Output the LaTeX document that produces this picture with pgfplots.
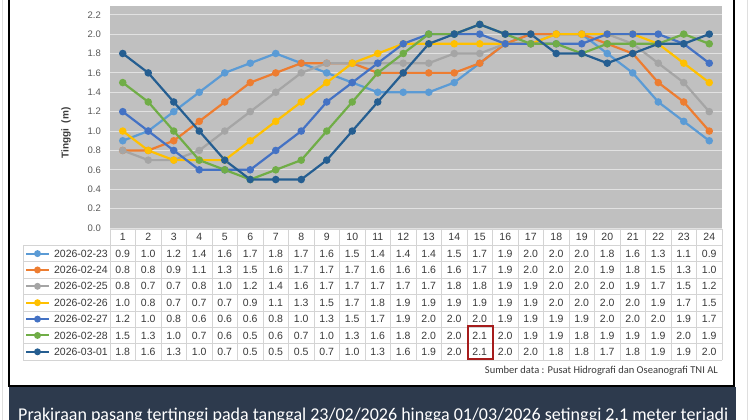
\documentclass[border=0pt]{standalone}
\usepackage{pgfplots}
\pgfplotsset{compat=1.18}
\usepackage{pgfplotstable}
\usepackage{fontspec}
\setmainfont{Liberation Sans}
\newfontfamily\calib{Carlito}
\definecolor{c23}{HTML}{5B9BD5}
\definecolor{c24}{HTML}{ED7D31}
\definecolor{c25}{HTML}{A5A5A5}
\definecolor{c26}{HTML}{FFC000}
\definecolor{c27}{HTML}{4472C4}
\definecolor{c28}{HTML}{70AD47}
\definecolor{c01}{HTML}{255E91}
\definecolor{plotbg}{HTML}{C0C0C0}
\definecolor{gridc}{HTML}{E2E2E2}
\definecolor{tabline}{HTML}{D4D4D4}
\definecolor{txt}{HTML}{3A3A3A}
\definecolor{ticktxt}{HTML}{595959}
\definecolor{navy}{HTML}{2D3A4D}
\definecolor{hlred}{HTML}{A61C1C}

\pgfplotstableread{
h d23 d24 d25 d26 d27 d28 d01
1 0.9 0.8 0.8 1.0 1.2 1.5 1.8
2 1.0 0.8 0.7 0.8 1.0 1.3 1.6
3 1.2 0.9 0.7 0.7 0.8 1.0 1.3
4 1.4 1.1 0.8 0.7 0.6 0.7 1.0
5 1.6 1.3 1.0 0.7 0.6 0.6 0.7
6 1.7 1.5 1.2 0.9 0.6 0.5 0.5
7 1.8 1.6 1.4 1.1 0.8 0.6 0.5
8 1.7 1.7 1.6 1.3 1.0 0.7 0.5
9 1.6 1.7 1.7 1.5 1.3 1.0 0.7
10 1.5 1.7 1.7 1.7 1.5 1.3 1.0
11 1.4 1.6 1.7 1.8 1.7 1.6 1.3
12 1.4 1.6 1.7 1.9 1.9 1.8 1.6
13 1.4 1.6 1.7 1.9 2.0 2.0 1.9
14 1.5 1.6 1.8 1.9 2.0 2.0 2.0
15 1.7 1.7 1.8 1.9 2.0 2.1 2.1
16 1.9 1.9 1.9 1.9 1.9 2.0 2.0
17 2.0 2.0 1.9 1.9 1.9 1.9 2.0
18 2.0 2.0 2.0 2.0 1.9 1.9 1.8
19 2.0 2.0 2.0 2.0 1.9 1.8 1.8
20 1.8 1.9 2.0 2.0 2.0 1.9 1.7
21 1.6 1.8 1.9 2.0 2.0 1.9 1.8
22 1.3 1.5 1.7 1.9 2.0 1.9 1.9
23 1.1 1.3 1.5 1.7 1.9 2.0 1.9
24 0.9 1.0 1.2 1.5 1.7 1.9 2.0
}\data

\begin{document}
\begin{tikzpicture}[x=1pt,y=1pt]
\clip (0,0) rectangle (750,420);
\fill[white] (0,0) rectangle (750,420);
\draw[gray!25, line width=0.8pt] (2,0) -- (2,420);
\draw[gray!25, line width=0.8pt] (747,0) -- (747,420);

\begin{axis}[at={(110pt,192pt)}, anchor=south west, scale only axis,
  width=612pt, height=222pt,
  xmin=0.5, xmax=24.5, ymin=0, ymax=2.29,
  xtick=\empty,
  ytick={0,0.2,0.4,0.6,0.8,1.0,1.2,1.4,1.6,1.8,2.0,2.2},
  ymajorgrids, grid style={color=gridc, line width=0.9pt},
  axis line style={draw=none}, major tick length=0pt,
  axis background/.style={fill=plotbg},
  /pgf/number format/assume math mode=true,
  yticklabel style={font=\fontsize{9.5}{11}\selectfont, text=ticktxt,
    inner sep=0pt, xshift=-9pt,
    /pgf/number format/fixed, /pgf/number format/fixed zerofill,
    /pgf/number format/precision=1},
  every axis plot/.append style={line width=2.2pt, mark=*, mark size=2.6pt},
]
\addplot[c23, mark options={fill=c23}] table[x=h, y=d23] {\data};
\addplot[c24, mark options={fill=c24}] table[x=h, y=d24] {\data};
\addplot[c25, mark options={fill=c25}] table[x=h, y=d25] {\data};
\addplot[c26, mark options={fill=c26}] table[x=h, y=d26] {\data};
\addplot[c27, mark options={fill=c27}] table[x=h, y=d27] {\data};
\addplot[c28, mark options={fill=c28}] table[x=h, y=d28] {\data};
\addplot[c01, mark options={fill=c01}] table[x=h, y=d01] {\data};
\end{axis}

\node[rotate=90, font=\bfseries\fontsize{10}{12}\selectfont, text=txt] at (66,287) {Tinggi\ \ (m)};

% table grid
\foreach \k in {0,...,8} {
  \pgfmathsetmacro\yy{420-(229+\k*16.375)}
  \ifnum\k=0
    \draw[tabline, line width=0.6pt] (110,\yy) -- (722,\yy);
  \else
    \draw[tabline, line width=0.6pt] (23,\yy) -- (722,\yy);
  \fi
}
\foreach \k in {0,...,24} {
  \pgfmathsetmacro\xx{110+\k*25.5}
  \draw[tabline, line width=0.6pt] (\xx,191) -- (\xx,60);
}
\draw[tabline, line width=0.6pt] (23,{420-245.375}) -- (23,60);

% header numbers
\foreach \i in {1,...,24} {
  \pgfmathsetmacro\xx{110+(\i-0.5)*25.5}
  \node[font=\fontsize{10.5}{12}\selectfont, text=txt] at (\xx,{420-237.2}) {\i};
}

% values
\foreach \c/\lab [count=\r] in {d23/2026-02-23,d24/2026-02-24,d25/2026-02-25,d26/2026-02-26,d27/2026-02-27,d28/2026-02-28,d01/2026-03-01} {
  \pgfmathsetmacro\yy{420-(237.2+\r*16.375)}
  \node[anchor=east, inner sep=0pt, font=\fontsize{10.5}{12}\selectfont, text=txt] at (108,\yy) {\lab};
  \foreach \i in {0,...,23} {
    \pgfplotstablegetelem{\i}{\c}\of\data
    \pgfmathsetmacro\xx{110+(\i+0.5)*25.5}
    \node[font=\fontsize{10.5}{12}\selectfont, text=txt] at (\xx,\yy) {\pgfplotsretval};
  }
}

% legend keys
\begin{axis}[at={(0pt,0pt)}, anchor=south west, scale only axis,
  width=750pt, height=420pt, xmin=0, xmax=750, ymin=0, ymax=420,
  y dir=reverse, hide axis, clip=false,
  every axis plot/.append style={line width=2pt, mark=*, mark size=2.4pt, mark indices={2}}]
\addplot[c23, mark options={fill=c23}] coordinates {(26,253.6) (37.5,253.6) (49,253.6)};
\addplot[c24, mark options={fill=c24}] coordinates {(26,269.95) (37.5,269.95) (49,269.95)};
\addplot[c25, mark options={fill=c25}] coordinates {(26,286.3) (37.5,286.3) (49,286.3)};
\addplot[c26, mark options={fill=c26}] coordinates {(26,302.7) (37.5,302.7) (49,302.7)};
\addplot[c27, mark options={fill=c27}] coordinates {(26,319.1) (37.5,319.1) (49,319.1)};
\addplot[c28, mark options={fill=c28}] coordinates {(26,335.45) (37.5,335.45) (49,335.45)};
\addplot[c01, mark options={fill=c01}] coordinates {(26,351.8) (37.5,351.8) (49,351.8)};
\end{axis}

% highlight
\draw[hlred, line width=2pt] (467.5,{420-326.5}) rectangle (492.5,{420-359});

% source
\node[anchor=base east, inner sep=0pt, font=\calib\fontsize{10.5}{12}\selectfont, text=txt] at (718,46) {Sumber data : Pusat Hidrografi dan Oseanografi TNI AL};

% frame
\draw[black, line width=1.5pt] (9,421) -- (9,34) -- (734,34) -- (734,421);
\fill[navy] (9,0) rectangle (736,33);
\node[anchor=base west, inner sep=0pt, font=\calib\fontsize{18}{20}\selectfont, text=white] at (18,-1) {Prakiraan pasang tertinggi pada tanggal 23/02/2026 hingga 01/03/2026 setinggi 2.1 meter terjadi};
\end{tikzpicture}
\end{document}
